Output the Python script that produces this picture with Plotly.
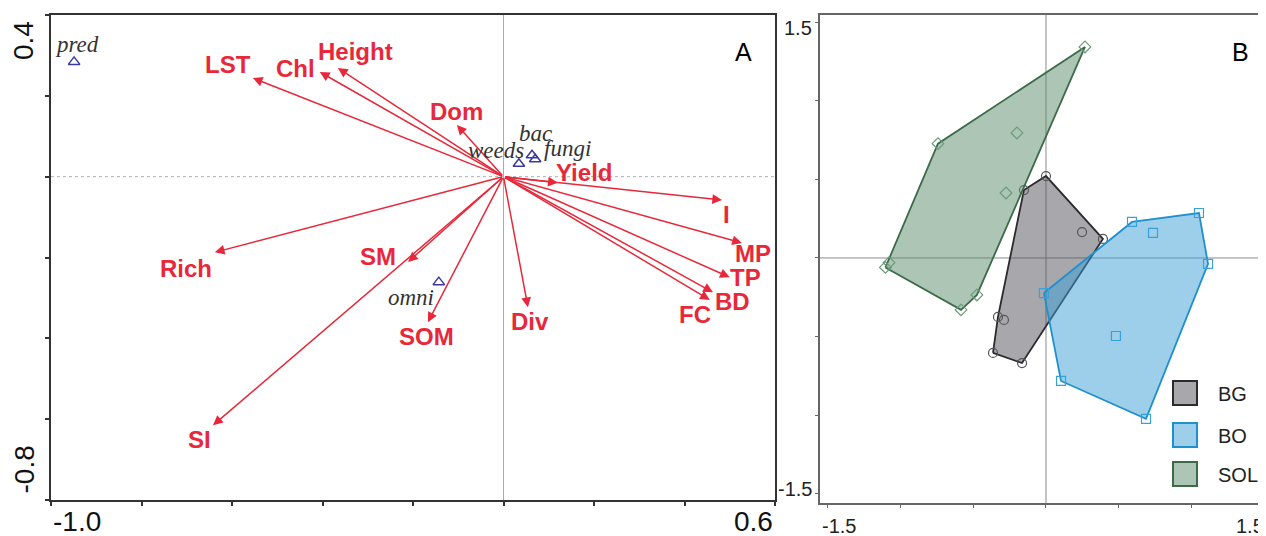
import plotly.graph_objects as go

# ---------------- Panel A data (RDA biplot) ----------------
env_names = ["LST", "Chl", "Height", "Dom", "Yield", "I", "MP", "TP", "BD", "FC",
             "Div", "SOM", "SM", "Rich", "SI"]
env_x = [-0.554, -0.406, -0.366, -0.103, 0.120, 0.483, 0.527, 0.500, 0.463, 0.456,
         0.054, -0.167, -0.211, -0.638, -0.642]
env_y = [0.244, 0.259, 0.269, 0.128, -0.015, -0.058, -0.164, -0.249, -0.286, -0.305,
         -0.323, -0.360, -0.211, -0.187, -0.615]

sp_names = ["pred", "weeds", "bac", "fungi", "omni"]
sp_x = [-0.949, 0.034, 0.063, 0.070, -0.143]
sp_y = [0.284, 0.032, 0.053, 0.043, -0.261]

# ---------------- Panel B data (ordination groups) ----------------
groups = ["BG", "BO", "SOL"]
bg_x = [0.000, -0.151, 0.390, 0.247, -0.329, -0.288, -0.363, -0.164]
bg_y = [0.521, 0.432, 0.121, 0.165, -0.375, -0.394, -0.604, -0.668]
bo_x = [0.589, 1.048, 1.110, 0.685, 0.103, -0.014, 0.733, 0.479]
bo_y = [0.229, 0.286, -0.038, -1.023, -0.782, -0.223, 0.159, -0.496]
sol_x = [0.267, -0.740, -1.075, -1.100, -0.582, -0.473, -0.199, -0.274]
sol_y = [1.342, 0.727, -0.030, -0.060, -0.330, -0.235, 0.795, 0.413]

# ---------------- styles ----------------
RED = "#e8283a"
BLUE_T = "#3a3aa0"
env_offsets = {  # label offsets from arrow tip in pixels (dx, dy up)
    "LST": (-25, 14), "Chl": (-24, 3), "Height": (18, 16), "Dom": (0, 13),
    "Yield": (26, 10), "I": (4, -14), "MP": (11, -10.5), "TP": (16, 0),
    "BD": (19, -9), "FC": (-15, -15), "Div": (2, -14), "SOM": (-1, -14),
    "SM": (-30, 5), "Rich": (-29, -16), "SI": (-14, -14),
}
sp_offsets = {"pred": (3, 17), "weeds": (-23, 13), "bac": (3, 22),
              "fungi": (32, 11), "omni": (-28, -15)}

group_style = {
    "BG": dict(fill="rgba(80,80,90,0.5)", line="#2b2b2e", marker="#555558", symbol="circle-open"),
    "BO": dict(fill="rgba(60,160,215,0.5)", line="#1f90cc", marker="#3aa0da", symbol="square-open"),
    "SOL": dict(fill="rgba(90,140,105,0.5)", line="#3d6b4a", marker="#6a9a78", symbol="diamond-open"),
}
group_data = {"BG": (bg_x, bg_y), "BO": (bo_x, bo_y), "SOL": (sol_x, sol_y)}

# page layout: the figure sits 8px in from the window's top-left corner
OFF = 8
W, H = 1266 - OFF, 536 - OFF


def px(x):
    return (x - OFF) / W


def py(y):
    return (H - (y - OFF)) / H


def convex_hull(xs, ys):
    pts = sorted(set(zip(xs, ys)))
    def cross(o, a, b):
        return (a[0] - o[0]) * (b[1] - o[1]) - (a[1] - o[1]) * (b[0] - o[0])
    lower, upper = [], []
    for p in pts:
        while len(lower) >= 2 and cross(lower[-2], lower[-1], p) <= 0:
            lower.pop()
        lower.append(p)
    for p in reversed(pts):
        while len(upper) >= 2 and cross(upper[-2], upper[-1], p) <= 0:
            upper.pop()
        upper.append(p)
    hull = lower[:-1] + upper[:-1]
    hull.append(hull[0])
    return [p[0] for p in hull], [p[1] for p in hull]


fig = go.Figure()

# Panel A: species triangles
fig.add_trace(go.Scatter(
    x=sp_x, y=sp_y, mode="markers", xaxis="x", yaxis="y",
    marker=dict(symbol="triangle-up-open", size=10, color=BLUE_T, line=dict(width=1.5)),
    showlegend=False, hoverinfo="skip"))

annotations = []
for n, x, y in zip(env_names, env_x, env_y):
    annotations.append(dict(
        x=x, y=y, ax=0, ay=0, xref="x", yref="y", axref="x", ayref="y",
        showarrow=True, arrowhead=2, arrowsize=1.3, arrowwidth=1.5,
        arrowcolor=RED, text=""))
    dx, dy = env_offsets[n]
    annotations.append(dict(
        x=x, y=y, xref="x", yref="y", text=n, showarrow=False,
        xshift=dx, yshift=dy, xanchor="center", yanchor="middle",
        font=dict(family="Liberation Sans, Arial", size=24, color=RED, weight="bold")))
for n, x, y in zip(sp_names, sp_x, sp_y):
    dx, dy = sp_offsets[n]
    annotations.append(dict(
        x=x, y=y, xref="x", yref="y", text="<i>%s</i>" % n, showarrow=False,
        xshift=dx, yshift=dy, xanchor="center", yanchor="middle",
        font=dict(family="Liberation Serif, Times New Roman", size=23, color="#333333")))

# Panel B: hulls and points
for g in groups:
    xs, ys = group_data[g]
    st = group_style[g]
    hx, hy = convex_hull(xs, ys)
    fig.add_trace(go.Scatter(
        x=hx, y=hy, mode="lines", fill="toself", fillcolor=st["fill"],
        line=dict(color=st["line"], width=1.8), xaxis="x2", yaxis="y2",
        showlegend=False, hoverinfo="skip"))
    fig.add_trace(go.Scatter(
        x=xs, y=ys, mode="markers", xaxis="x2", yaxis="y2",
        marker=dict(symbol=st["symbol"], size=9, color=st["marker"], line=dict(width=1.2)),
        showlegend=False, hoverinfo="skip"))

# Manual legend for panel B
shapes = []
leg_tops = [381, 423, 462]
for g, top in zip(groups, leg_tops):
    st = group_style[g]
    shapes.append(dict(type="rect", xref="paper", yref="paper",
                       x0=px(1173), x1=px(1197), y0=py(top + 24), y1=py(top),
                       fillcolor=st["fill"], line=dict(color=st["line"], width=2)))
    annotations.append(dict(x=px(1216), y=py(top + 13), xref="paper", yref="paper",
                            text=g, showarrow=False, xanchor="left", yanchor="middle",
                            font=dict(family="Liberation Sans, Arial", size=20, color="#222222")))

# Zero lines
shapes.append(dict(type="line", xref="x", yref="y", x0=-1.0, x1=0.6, y0=0, y1=0,
                   line=dict(color="#b0b0b0", width=1, dash="dot"), layer="below"))
shapes.append(dict(type="line", xref="x", yref="y", x0=0, x1=0, y0=-0.8, y1=0.4,
                   line=dict(color="#aaaaaa", width=1), layer="below"))
shapes.append(dict(type="line", xref="x2", yref="y2", x0=-1.6, x1=1.6, y0=0, y1=0,
                   line=dict(color="#8a8a8a", width=1), layer="below"))
shapes.append(dict(type="line", xref="x2", yref="y2", x0=0, x1=0, y0=-1.6, y1=1.6,
                   line=dict(color="#8a8a8a", width=1), layer="below"))

# Axis end labels
tickfontA = dict(family="Liberation Sans, Arial", size=28, color="#111111")
annotations += [
    dict(x=-1.0, y=py(500), xref="x", yref="paper", text="-1.0", showarrow=False,
         xanchor="left", yanchor="top", yshift=-4, font=tickfontA),
    dict(x=0.6, y=py(500), xref="x", yref="paper", text="0.6", showarrow=False,
         xanchor="right", yanchor="top", yshift=-4, font=tickfontA),
    dict(x=px(8), y=0.4, xref="paper", yref="y", text="0.4", showarrow=False, textangle=-90,
         xanchor="left", yanchor="top", xshift=-2, yshift=-4, font=tickfontA),
    dict(x=px(8), y=-0.8, xref="paper", yref="y", text="-0.8", showarrow=False, textangle=-90,
         xanchor="left", yanchor="bottom", xshift=-2, yshift=4, font=tickfontA),
    dict(x=px(743), y=py(52), xref="paper", yref="paper", text="A", showarrow=False,
         xanchor="center", yanchor="middle",
         font=dict(family="Liberation Sans, Arial", size=25, color="#000000")),
    dict(x=px(1240), y=py(52), xref="paper", yref="paper", text="B", showarrow=False,
         xanchor="center", yanchor="middle",
         font=dict(family="Liberation Sans, Arial", size=25, color="#000000")),
]
tickfontB = dict(family="Liberation Sans, Arial", size=20, color="#222222")
annotations += [
    dict(x=-1.548, y=py(503), xref="x2", yref="paper", text="-1.5", showarrow=False,
         xanchor="left", yanchor="top", yshift=-10, font=tickfontB),
    dict(x=1.0, y=py(503), xref="paper", yref="paper", text="1.5", showarrow=False,
         xanchor="right", yanchor="top", yshift=-10, font=tickfontB),
    dict(x=-1.548, y=1.5, xref="x2", yref="y2", text="1.5", showarrow=False,
         xanchor="right", yanchor="top", xshift=-6, yshift=7, font=tickfontB),
    dict(x=-1.548, y=-1.5, xref="x2", yref="y2", text="-1.5", showarrow=False,
         xanchor="right", yanchor="bottom", xshift=-6, yshift=-8, font=tickfontB),
]

fig.update_layout(
    width=W, height=H, margin=dict(l=0, r=0, t=0, b=0),
    paper_bgcolor="white", plot_bgcolor="white",
    xaxis=dict(domain=[px(51), px(775)], range=[-1.0, 0.6], showgrid=False, zeroline=False,
               showline=True, mirror=True, linecolor="#333333", linewidth=2,
               ticks="outside", ticklen=4, tickcolor="#333333", tickwidth=1.5,
               tickvals=[-1.0, -0.8, -0.6, -0.4, -0.2, 0, 0.2, 0.4, 0.6],
               showticklabels=False, anchor="y"),
    yaxis=dict(domain=[py(500), py(15)], range=[-0.8, 0.4], showgrid=False,
               zeroline=False, showline=True, mirror=True, linecolor="#333333", linewidth=2,
               ticks="outside", ticklen=4, tickcolor="#333333", tickwidth=1.5,
               tickvals=[-0.8, -0.6, -0.4, -0.2, 0, 0.2, 0.4],
               showticklabels=False, anchor="x"),
    xaxis2=dict(domain=[px(820), 1.0], range=[-1.548, 1.507], showgrid=False, zeroline=False,
                showline=True, mirror=True, linecolor="#666666", linewidth=1.5,
                ticks="outside", ticklen=3, tickcolor="#666666",
                tickvals=[-1.5, -1.0, -0.5, 0, 0.5, 1.0, 1.5],
                showticklabels=False, anchor="y2"),
    yaxis2=dict(domain=[py(503), py(15)], range=[-1.558, 1.545], showgrid=False,
                zeroline=False, showline=True, linecolor="#666666", linewidth=1.5,
                ticks="outside", ticklen=3, tickcolor="#666666",
                tickvals=[-1.5, -1.0, -0.5, 0, 0.5, 1.0, 1.5],
                showticklabels=False, anchor="x2"),
    shapes=shapes, annotations=annotations,
)

fig.write_html("out.html")
